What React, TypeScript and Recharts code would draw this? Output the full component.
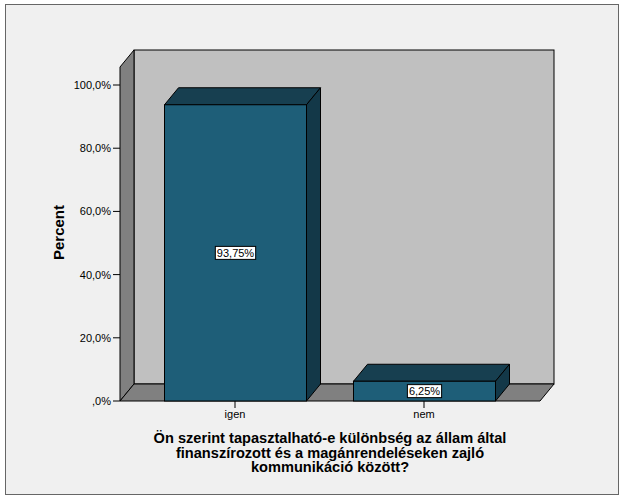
import { BarChart, Bar, XAxis, YAxis, ReferenceArea, LabelList, Label } from 'recharts'

const categories = ['igen', 'nem']
const percents = [93.75, 6.25]
const yTicks = [0, 20, 40, 60, 80, 100]
const yMax = 105.7
const yTitle = 'Percent'
const xTitleLines = [
  'Ön szerint tapasztalható-e különbség az állam által',
  'finanszírozott és a magánrendeléseken zajló',
  'kommunikáció között?',
]

const data = categories.map((c, i) => ({ category: c, percent: percents[i] }))

const FONT = '"Liberation Sans", Arial, sans-serif'
const DX = 14
const DY = 17
const PAD_L = 20.5
const PAD_R = 21.5

const pct = (v: number, digits: number) =>
  v === 0 ? ',0%' : `${v.toFixed(digits).replace('.', ',')}%`

// the reference area gets the padded category range, so widen it back to the full floor
function Walls(props: any) {
  const x = props.x - PAD_L
  const w = props.width + PAD_L + PAD_R
  const { y, height: h } = props
  return (
    <g stroke="#000" strokeWidth={1}>
      <rect x={x + DX} y={y - DY} width={w} height={h} fill="#c0c0c0" />
      <polygon
        points={`${x},${y} ${x + DX},${y - DY} ${x + DX},${y + h - DY} ${x},${y + h}`}
        fill="#808080"
      />
      <polygon
        points={`${x},${y + h} ${x + DX},${y + h - DY} ${x + w + DX},${y + h - DY} ${x + w},${y + h}`}
        fill="#808080"
      />
    </g>
  )
}

function Box3D(props: any) {
  const { x, y, width: w, height: h } = props
  return (
    <g stroke="#000" strokeWidth={1}>
      <polygon
        points={`${x},${y} ${x + DX},${y - DY} ${x + w + DX},${y - DY} ${x + w},${y}`}
        fill="#173f50"
      />
      <polygon
        points={`${x + w},${y} ${x + w + DX},${y - DY} ${x + w + DX},${y + h - DY} ${x + w},${y + h}`}
        fill="#133848"
      />
      <rect x={x} y={y} width={w} height={h} fill="#1e5e78" />
    </g>
  )
}

function ValueBox(props: any) {
  const { x, y, width, height, value } = props
  const text = pct(Number(value), 2)
  let tw = 0
  for (const ch of text) tw += ch === ',' ? 3.06 : ch === '%' ? 9.8 : 6.12
  const bw = tw + 3
  const cx = x + width / 2
  const cy = y + height / 2
  return (
    <g>
      <rect x={cx - bw / 2} y={cy - 6.5} width={bw} height={13} fill="#fff" stroke="#000" />
      <text x={cx} y={cy + 4} textAnchor="middle" fontSize={11} fontFamily={FONT} fill="#000">
        {text}
      </text>
    </g>
  )
}

function YTitle(props: any) {
  const { viewBox } = props
  const cx = viewBox.x - 2
  const cy = viewBox.y + viewBox.height / 2 - 1.5
  return (
    <text
      x={cx}
      y={cy}
      transform={`rotate(-90 ${cx} ${cy})`}
      textAnchor="middle"
      dominantBaseline="central"
      fontSize={15}
      fontWeight="bold"
      fontFamily={FONT}
      fill="#000"
    >
      {yTitle}
    </text>
  )
}

function XTitle(props: any) {
  const { viewBox } = props
  const cx = viewBox.x + viewBox.width / 2
  return (
    <text textAnchor="middle" fontSize={14.6} fontWeight="bold" fontFamily={FONT} fill="#000">
      {xTitleLines.map((line, i) => (
        <tspan key={i} x={cx} y={viewBox.y + 42 + i * 14.5}>
          {line}
        </tspan>
      ))}
    </text>
  )
}

export default function App() {
  return (
    <div style={{ position: 'absolute', left: 0, top: 0, width: 626, height: 501, background: '#fff' }}>
      <div
        style={{
          position: 'absolute',
          left: 5,
          top: 4,
          width: 612,
          height: 489,
          border: '1px solid #666',
          background: '#f0f0f0',
        }}
      />
      <div style={{ position: 'absolute', left: 0, top: 0 }}>
        <BarChart
          width={626}
          height={501}
          data={data}
          margin={{ top: 67, right: 86, bottom: 10, left: 60 }}
        >
          <ReferenceArea y1={0} y2={yMax} shape={Walls} ifOverflow="visible" />
          <XAxis
            dataKey="category"
            height={90}
            padding={{ left: PAD_L, right: PAD_R }}
            axisLine={false}
            tickSize={7}
            tickLine={{ stroke: '#000' }}
            tick={{ fill: '#000', fontSize: 11, fontFamily: FONT }}
          >
            <Label content={XTitle} />
          </XAxis>
          <YAxis
            width={60}
            domain={[0, yMax]}
            ticks={yTicks}
            tickFormatter={(v) => pct(v, 1)}
            axisLine={false}
            tickSize={7}
            tickMargin={2}
            tickLine={{ stroke: '#000' }}
            tick={{ fill: '#000', fontSize: 11, fontFamily: FONT }}
          >
            <Label content={YTitle} />
          </YAxis>
          <Bar dataKey="percent" barSize={142} shape={Box3D} isAnimationActive={false}>
            <LabelList dataKey="percent" content={ValueBox} />
          </Bar>
        </BarChart>
      </div>
    </div>
  )
}
